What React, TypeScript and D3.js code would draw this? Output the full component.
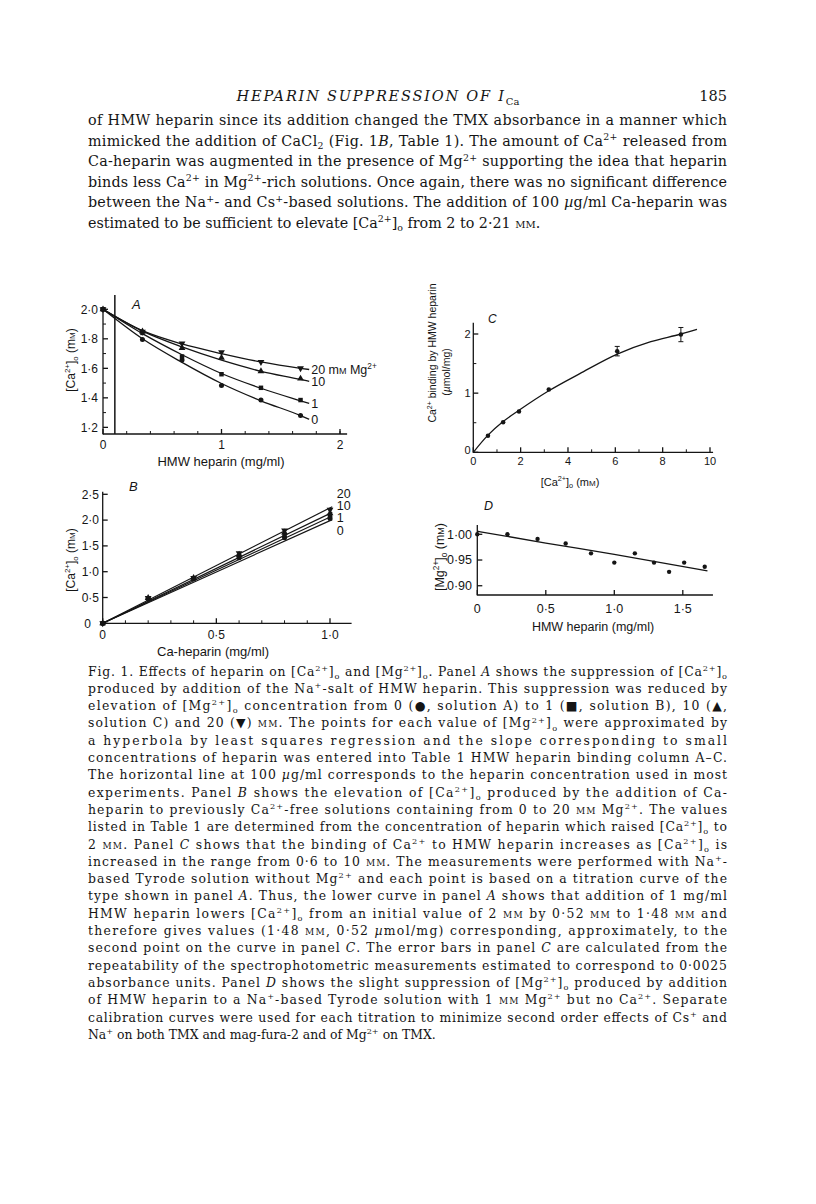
import React from 'react';
import * as d3 from 'd3';

const SANS = '"Liberation Sans", Arial, sans-serif';
const SERIF = '"DejaVu Serif", serif';
const INK = '#151515';

// ---- page text
const runningHead = 'HEPARIN SUPPRESSION OF I';
const runningHeadSub = 'Ca';
const pageNumber = '185';
const bodyLines = [
  'of HMW heparin since its addition changed the TMX absorbance in a manner which',
  'mimicked the addition of CaCl_{2} (Fig. 1*B*, Table 1). The amount of Ca^{2+} released from',
  'Ca-heparin was augmented in the presence of Mg^{2+} supporting the idea that heparin',
  'binds less Ca^{2+} in Mg^{2+}-rich solutions. Once again, there was no significant difference',
  'between the Na^{+}- and Cs^{+}-based solutions. The addition of 100 *µ*g/ml Ca-heparin was',
  'estimated to be sufficient to elevate [Ca^{2+}]_{o} from 2 to 2·21 $mm$.',
];
const captionLines = [
  'Fig. 1. Effects of heparin on [Ca^{2+}]_{o} and [Mg^{2+}]_{o}. Panel *A* shows the suppression of [Ca^{2+}]_{o}',
  'produced by addition of the Na^{+}-salt of HMW heparin. This suppression was reduced by',
  'elevation of [Mg^{2+}]_{o} concentration from 0 (●, solution A) to 1 (■, solution B), 10 (▲,',
  'solution C) and 20 (▼) $mm$. The points for each value of [Mg^{2+}]_{o} were approximated by',
  'a hyperbola by least squares regression and the slope corresponding to small',
  'concentrations of heparin was entered into Table 1 HMW heparin binding column A–C.',
  'The horizontal line at 100 *µ*g/ml corresponds to the heparin concentration used in most',
  'experiments. Panel *B* shows the elevation of [Ca^{2+}]_{o} produced by the addition of Ca-',
  'heparin to previously Ca^{2+}-free solutions containing from 0 to 20 $mm$ Mg^{2+}. The values',
  'listed in Table 1 are determined from the concentration of heparin which raised [Ca^{2+}]_{o} to',
  '2 $mm$. Panel *C* shows that the binding of Ca^{2+} to HMW heparin increases as [Ca^{2+}]_{o} is',
  'increased in the range from 0·6 to 10 $mm$. The measurements were performed with Na^{+}-',
  'based Tyrode solution without Mg^{2+} and each point is based on a titration curve of the',
  'type shown in panel *A*. Thus, the lower curve in panel *A* shows that addition of 1 mg/ml',
  'HMW heparin lowers [Ca^{2+}]_{o} from an initial value of 2 $mm$ by 0·52 $mm$ to 1·48 $mm$ and',
  'therefore gives values (1·48 $mm$, 0·52 *µ*mol/mg) corresponding, approximately, to the',
  'second point on the curve in panel *C*. The error bars in panel *C* are calculated from the',
  'repeatability of the spectrophotometric measurements estimated to correspond to 0·0025',
  'absorbance units. Panel *D* shows the slight suppression of [Mg^{2+}]_{o} produced by addition',
  'of HMW heparin to a Na^{+}-based Tyrode solution with 1 $mm$ Mg^{2+} but no Ca^{2+}. Separate',
  'calibration curves were used for each titration to minimize second order effects of Cs^{+} and',
  'Na^{+} on both TMX and mag-fura-2 and of Mg^{2+} on TMX.',
];

// ---- panel A: [Ca2+]o vs HMW heparin (mg/ml) at 0, 1, 10, 20 mM Mg2+
const aHeparin = [0, 0.333, 0.667, 1.0, 1.333, 1.667];
const aCa0 = [2.0, 1.795, 1.656, 1.483, 1.385, 1.28];
const aCa1 = [2.0, 1.84, 1.68, 1.56, 1.468, 1.385];
const aCa10 = [2.0, 1.85, 1.738, 1.672, 1.58, 1.53];
const aCa20 = [2.0, 1.848, 1.768, 1.71, 1.643, 1.6];
const aFitHeparin = [0, 0.333, 0.667, 1.0, 1.333, 1.667, 1.74];
const aFit0 = [2.0, 1.8, 1.64, 1.497, 1.38, 1.28, 1.255];
const aFit1 = [2.0, 1.835, 1.692, 1.565, 1.465, 1.38, 1.362];
const aFit10 = [2.0, 1.852, 1.745, 1.655, 1.58, 1.525, 1.512];
const aFit20 = [2.0, 1.855, 1.765, 1.7, 1.643, 1.6, 1.592];
const aLabels = ['0', '1', '10', '20 m$m$ Mg^{2+}'];
const aYTicks = [1.2, 1.4, 1.6, 1.8, 2.0];
const aYTickLabels = ['1·2', '1·4', '1·6', '1·8', '2·0'];
const aXTicks = [0, 1, 2];
const aXTickLabels = ['0', '1', '2'];
const aWorkingDose = 0.1; // 100 µg/ml

// ---- panel B: [Ca2+]o vs Ca-heparin (mg/ml)
const bHeparin = [0, 0.2, 0.4, 0.6, 0.8, 1.0];
const bCa0 = [0, 0.48, 0.87, 1.27, 1.66, 2.03];
const bCa1 = [0, 0.48, 0.87, 1.3, 1.71, 2.08];
const bCa10 = [0, 0.49, 0.88, 1.33, 1.76, 2.13];
const bCa20 = [0, 0.49, 0.88, 1.36, 1.8, 2.2];
const bFitHeparin = [0, 1.01];
const bFit0 = [0, 2.01];
const bFit1 = [0, 2.08];
const bFit10 = [0, 2.15];
const bFit20 = [0, 2.26];
const bLabels = ['0', '1', '10', '20'];
const bYTicks = [0, 0.5, 1.0, 1.5, 2.0, 2.5];
const bYTickLabels = ['0', '0·5', '1·0', '1·5', '2·0', '2·5'];
const bXTicks = [0, 0.5, 1.0];
const bXTickLabels = ['0', '0·5', '1·0'];

// ---- panel C: Ca2+ bound by HMW heparin vs [Ca2+]o
const cCa = [0.62, 1.26, 1.93, 3.19, 6.08, 8.77];
const cBound = [0.28, 0.51, 0.69, 1.06, 1.71, 1.99];
const cErr = [0, 0, 0, 0, 0.08, 0.12];
const cFitCa = [0, 0.62, 1.26, 1.93, 3.19, 4.5, 6.08, 7.5, 8.77, 9.45];
const cFitBound = [0, 0.29, 0.52, 0.71, 1.04, 1.33, 1.66, 1.87, 2.0, 2.08];
const cYTicks = [0, 1, 2];
const cXTicks = [0, 2, 4, 6, 8, 10];

// ---- panel D: [Mg2+]o vs HMW heparin
const dHeparin = [0, 0.22, 0.44, 0.645, 0.83, 1.0, 1.15, 1.29, 1.4, 1.51, 1.66];
const dMg = [1.0, 1.0, 0.991, 0.982, 0.963, 0.945, 0.963, 0.945, 0.927, 0.945, 0.937];
const dFitHeparin = [0, 0.5, 1.0, 1.68];
const dFitMg = [1.006, 0.983, 0.961, 0.929];
const dYTicks = [0.9, 0.95, 1.0];
const dYTickLabels = ['0·90', '0·95', '1·00'];
const dXTicks = [0, 0.5, 1.0, 1.5];
const dXTickLabels = ['0', '0·5', '1·0', '1·5'];

// tiny markup: ^{sup} _{sub} *italic* $smallcaps$
function rich(s: string, fs: number) {
  const parts = s.split(/(\^\{[^}]*\}|_\{[^}]*\}|\*[^*]+\*|\$[^$]+\$)/).filter((p) => p !== '');
  let cur = 0;
  return parts.map((p, i) => {
    let shift = 0;
    let text = p;
    let size: number | undefined;
    let italic = false;
    let sc = false;
    if (p.startsWith('^{')) { shift = -0.38 * fs; text = p.slice(2, -1); size = 0.66 * fs; }
    else if (p.startsWith('_{')) { shift = 0.26 * fs; text = p.slice(2, -1); size = 0.66 * fs; }
    else if (p.startsWith('*')) { italic = true; text = p.slice(1, -1); }
    else if (p.startsWith('$')) { sc = true; text = p.slice(1, -1); }
    const dy = shift - cur;
    cur = shift;
    return (
      <tspan key={i} dy={dy ? dy : undefined} fontSize={size}
        fontStyle={italic ? 'italic' : undefined} fontVariant={sc ? 'small-caps' : undefined}>
        {text}
      </tspan>
    );
  });
}

type Scale = d3.ScaleLinear<number, number>;

function Axes(p: { sx: Scale; sy: Scale; xEnd: number; yTop: number; xMajor: number[]; xMinor: number[]; yMajor: number[]; yMinor: number[] }) {
  const ox = p.sx(p.sx.domain()[0]);
  const oy = p.sy(p.sy.domain()[0]);
  return (
    <g stroke={INK} strokeWidth={1.3} fill="none">
      <line x1={ox} y1={oy} x2={p.sx(p.xEnd)} y2={oy} />
      <line x1={ox} y1={oy + 0.6} x2={ox} y2={p.sy(p.yTop)} />
      {p.xMajor.map((v) => <line key={'a' + v} x1={p.sx(v)} x2={p.sx(v)} y1={oy} y2={oy - 5} />)}
      {p.xMinor.map((v) => <line key={'b' + v} x1={p.sx(v)} x2={p.sx(v)} y1={oy} y2={oy - 3} strokeWidth={1} />)}
      {p.yMajor.map((v) => <line key={'c' + v} x1={ox} x2={ox + 5} y1={p.sy(v)} y2={p.sy(v)} />)}
      {p.yMinor.map((v) => <line key={'d' + v} x1={ox} x2={ox + 3} y1={p.sy(v)} y2={p.sy(v)} strokeWidth={1} />)}
    </g>
  );
}

const symbolFor: Record<string, d3.SymbolType> = {
  circle: d3.symbolCircle,
  square: d3.symbolSquare,
  up: d3.symbolTriangle,
  down: d3.symbolTriangle,
};
const mgMarkers = ['circle', 'square', 'up', 'down'];

function Marker({ kind, cx, cy, size = 20 }: { kind: string; cx: number; cy: number; size?: number }) {
  const d = d3.symbol().type(symbolFor[kind]).size(size)() || '';
  return <path d={d} transform={`translate(${cx},${cy})${kind === 'down' ? ' rotate(180)' : ''}`} fill={INK} />;
}

function PanelA() {
  const x = d3.scaleLinear().domain([0, 2]).range([103, 340]);
  const y = d3.scaleLinear().domain([1.155, 2.0]).range([434, 309.3]);
  const series = [aCa0, aCa1, aCa10, aCa20];
  const fits = [aFit0, aFit1, aFit10, aFit20];
  const line = d3.line<number>().x((_, i) => x(aFitHeparin[i])).y((d) => y(d)).curve(d3.curveMonotoneX);
  const last = aFitHeparin.length - 1;
  return (
    <g>
      <Axes sx={x} sy={y} xEnd={2.06} yTop={2.0} xMajor={aXTicks} xMinor={d3.range(0.2, 2.01, 0.2)}
        yMajor={aYTicks} yMinor={[1.3, 1.5, 1.7, 1.9]} />
      <line x1={x(aWorkingDose)} x2={x(aWorkingDose)} y1={295} y2={y(1.155)} stroke={INK} strokeWidth={1.5} />
      {fits.map((f, k) => <path key={k} d={line(f) || ''} fill="none" stroke={INK} strokeWidth={1.3} />)}
      {series.map((s, k) => s.map((v, i) => (
        <Marker key={`${k}-${i}`} kind={mgMarkers[k]} cx={x(aHeparin[i])} cy={y(v)} />
      )))}
      <g fontSize={12} fill={INK} textAnchor="end">
        {aYTicks.map((v, i) => <text key={v} x={98} y={y(v) + 4.2}>{aYTickLabels[i]}</text>)}
      </g>
      <g fontSize={12} fill={INK} textAnchor="middle">
        {aXTicks.map((v, i) => <text key={v} x={x(v)} y={448.5}>{aXTickLabels[i]}</text>)}
      </g>
      <g fontSize={12.5} fill={INK}>
        {fits.map((f, k) => <text key={k} x={x(aFitHeparin[last]) + 2} y={y(f[last]) + 4.5}>{rich(aLabels[k], 12.5)}</text>)}
      </g>
      <text x={132} y={308.5} fontSize={13} fontStyle="italic" fill={INK}>A</text>
      <text x={221} y={466} fontSize={13} textAnchor="middle" fill={INK}>HMW heparin (mg/ml)</text>
      <text transform="translate(75,360) rotate(-90)" fontSize={12} textAnchor="middle" fill={INK}>
        {rich('[Ca^{2+}]_{o} (m$m$)', 12)}
      </text>
    </g>
  );
}

function PanelB() {
  const x = d3.scaleLinear().domain([0, 1]).range([102.7, 330]);
  const y = d3.scaleLinear().domain([0, 2.5]).range([623.3, 494.3]);
  const series = [bCa0, bCa1, bCa10, bCa20];
  const fits = [bFit0, bFit1, bFit10, bFit20];
  const line = d3.line<number>().x((_, i) => x(bFitHeparin[i])).y((d) => y(d));
  const labelX = x(1.03);
  return (
    <g>
      <Axes sx={x} sy={y} xEnd={1.095} yTop={2.55} xMajor={bXTicks} xMinor={[0.1, 0.2, 0.3, 0.4, 0.6, 0.7, 0.8, 0.9]}
        yMajor={bYTicks} yMinor={[]} />
      {fits.map((f, k) => <path key={k} d={line(f) || ''} fill="none" stroke={INK} strokeWidth={1.2} />)}
      {series.map((s, k) => s.map((v, i) => (
        <Marker key={`${k}-${i}`} kind={mgMarkers[k]} cx={x(bHeparin[i])} cy={y(v)} />
      )))}
      <g fontSize={12} fill={INK} textAnchor="end">
        {bYTicks.map((v, i) => <text key={v} x={v === 0 ? 91 : 99} y={y(v) + 4.2}>{bYTickLabels[i]}</text>)}
      </g>
      <g fontSize={12} fill={INK} textAnchor="middle">
        {bXTicks.map((v, i) => <text key={v} x={x(v)} y={638.5}>{bXTickLabels[i]}</text>)}
      </g>
      <g fontSize={12.5} fill={INK}>
        {bLabels.map((l, k) => <text key={l} x={labelX} y={530 - k * 12.2 + 4.5}>{l}</text>)}
      </g>
      <text x={129} y={491} fontSize={13} fontStyle="italic" fill={INK}>B</text>
      <text x={213} y={656} fontSize={13} textAnchor="middle" fill={INK}>Ca-heparin (mg/ml)</text>
      <text transform="translate(75,560) rotate(-90)" fontSize={12} textAnchor="middle" fill={INK}>
        {rich('[Ca^{2+}]_{o} (m$m$)', 12)}
      </text>
    </g>
  );
}

function PanelC() {
  const x = d3.scaleLinear().domain([0, 10]).range([473.3, 710]);
  const y = d3.scaleLinear().domain([0, 2]).range([452.3, 334]);
  const line = d3.line<number>().x((_, i) => x(cFitCa[i])).y((d) => y(d)).curve(d3.curveMonotoneX);
  return (
    <g>
      <Axes sx={x} sy={y} xEnd={10.13} yTop={2.19} xMajor={cXTicks} xMinor={[1, 3, 5, 7, 9]}
        yMajor={cYTicks} yMinor={[0.5, 1.5]} />
      <path d={line(cFitBound) || ''} fill="none" stroke={INK} strokeWidth={1.3} />
      {cBound.map((v, i) => (
        <g key={i}>
          {cErr[i] > 0 && (
            <g stroke={INK} strokeWidth={1}>
              <line x1={x(cCa[i])} x2={x(cCa[i])} y1={y(v - cErr[i])} y2={y(v + cErr[i])} />
              <line x1={x(cCa[i]) - 2.5} x2={x(cCa[i]) + 2.5} y1={y(v - cErr[i])} y2={y(v - cErr[i])} />
              <line x1={x(cCa[i]) - 2.5} x2={x(cCa[i]) + 2.5} y1={y(v + cErr[i])} y2={y(v + cErr[i])} />
            </g>
          )}
          <Marker kind="circle" cx={x(cCa[i])} cy={y(v)} size={16} />
        </g>
      ))}
      <g fontSize={11} fill={INK} textAnchor="end">
        {cYTicks.map((v) => <text key={v} x={470.5} y={y(v) + (v === 0 ? 2 : 4)}>{v}</text>)}
      </g>
      <g fontSize={11} fill={INK} textAnchor="middle">
        {cXTicks.map((v) => <text key={v} x={x(v)} y={464.5}>{v}</text>)}
      </g>
      <text x={488} y={323} fontSize={12} fontStyle="italic" fill={INK}>C</text>
      <text x={570} y={485.5} fontSize={11} textAnchor="middle" fill={INK}>{rich('[Ca^{2+}]_{o} (m$m$)', 11)}</text>
      <text transform="translate(435.5,353) rotate(-90)" fontSize={10.5} textAnchor="middle" fill={INK}>
        {rich('Ca^{2+} binding by HMW heparin', 10.5)}
      </text>
      <text transform="translate(450,372) rotate(-90)" fontSize={10.5} textAnchor="middle" fill={INK}>
        {rich('(*µ*mol/mg)', 10.5)}
      </text>
    </g>
  );
}

function PanelD() {
  const x = d3.scaleLinear().domain([0, 1.5]).range([477.3, 682.8]);
  const y = d3.scaleLinear().domain([0.882, 1.0]).range([595, 534.3]);
  const line = d3.line<number>().x((_, i) => x(dFitHeparin[i])).y((d) => y(d)).curve(d3.curveMonotoneX);
  return (
    <g>
      <Axes sx={x} sy={y} xEnd={1.72} yTop={1.018} xMajor={dXTicks} xMinor={[]}
        yMajor={dYTicks} yMinor={[]} />
      <path d={line(dFitMg) || ''} fill="none" stroke={INK} strokeWidth={1.3} />
      {dMg.map((v, i) => <Marker key={i} kind="circle" cx={x(dHeparin[i])} cy={y(v)} size={15} />)}
      <g fontSize={12.5} fill={INK} textAnchor="end">
        {dYTicks.map((v, i) => <text key={v} x={472} y={y(v) + 4.4}>{dYTickLabels[i]}</text>)}
      </g>
      <g fontSize={12.5} fill={INK} textAnchor="middle">
        {dXTicks.map((v, i) => <text key={v} x={x(v)} y={612.5}>{dXTickLabels[i]}</text>)}
      </g>
      <text x={484} y={509.5} fontSize={12.5} fontStyle="italic" fill={INK}>D</text>
      <text x={593} y={630.5} fontSize={12.5} textAnchor="middle" fill={INK}>HMW heparin (mg/ml)</text>
      <text transform="translate(444,557) rotate(-90)" fontSize={12.5} textAnchor="middle" fill={INK}>
        {rich('[Mg^{2+}]_{o} (m$m$)', 12.5)}
      </text>
    </g>
  );
}

export default function App() {
  const left = 88;
  const width = 639;
  return (
    <svg width={816} height={1204} fontFamily={SANS}
      style={{ position: 'absolute', left: 0, top: 0, display: 'block', background: '#fff' }}>
      <rect width={816} height={1204} fill="#fff" />
      <text x={378} y={101} fontFamily={SERIF} fontStyle="italic" fontSize={14.5} fill={INK}
        textAnchor="middle" letterSpacing={1.8}>
        {runningHead}
        <tspan dy={3.5} fontSize={10} fontStyle="normal" letterSpacing={0}>{runningHeadSub}</tspan>
      </text>
      <text x={727} y={101} fontFamily={SERIF} fontSize={14.5} textAnchor="end" fill={INK}>{pageNumber}</text>
      {bodyLines.map((l, i) => (
        <text key={i} x={left} y={125 + i * 20.5} fontFamily={SERIF} fontSize={14.3} fill={INK}
          textLength={i < bodyLines.length - 1 ? width : undefined} lengthAdjust="spacing">
          {rich(l, 14.3)}
        </text>
      ))}
      <PanelA />
      <PanelB />
      <PanelC />
      <PanelD />
      {captionLines.map((l, i) => (
        <text key={i} x={left} y={675.5 + i * 17.3} fontFamily={SERIF} fontSize={12.4} fill={INK}
          textLength={i < captionLines.length - 1 ? width : undefined} lengthAdjust="spacing">
          {rich(l, 12.4)}
        </text>
      ))}
    </svg>
  );
}
